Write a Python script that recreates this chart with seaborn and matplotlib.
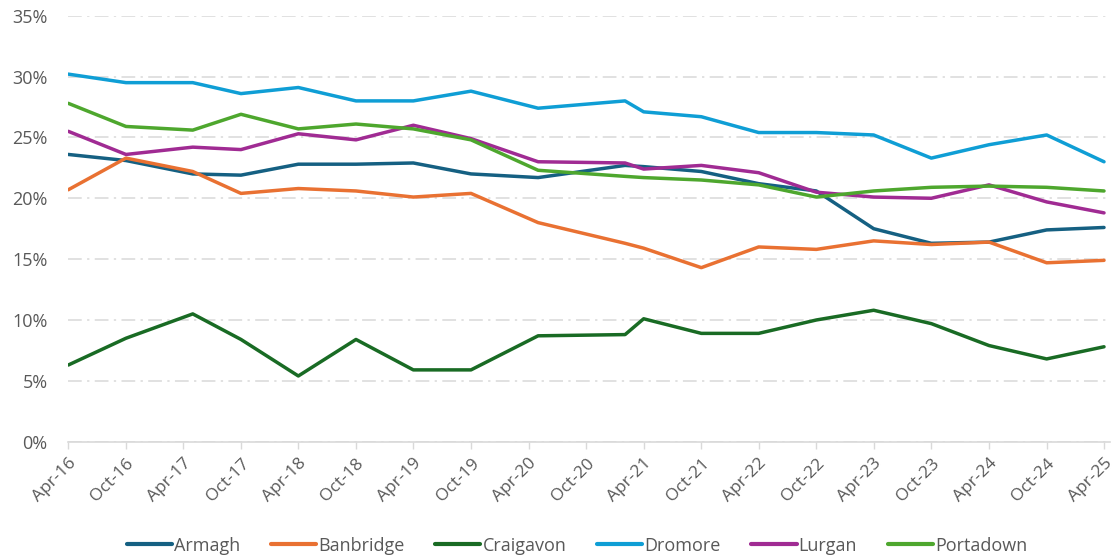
import numpy as np
import pandas as pd
import matplotlib
matplotlib.use("Agg")
import matplotlib.pyplot as plt
import matplotlib.dates as mdates
import seaborn as sns

dates = ["2016-04-01", "2016-10-01", "2017-05-01", "2017-10-01", "2018-04-01",
         "2018-10-01", "2019-04-01", "2019-10-01", "2020-05-01", "2021-02-01",
         "2021-04-01", "2021-10-01", "2022-04-01", "2022-10-01", "2023-04-01",
         "2023-10-01", "2024-04-01", "2024-10-01", "2025-04-01"]

armagh    = [23.6, 23.1, 22.0, 21.9, 22.8, 22.8, 22.9, 22.0, 21.7, 22.7, 22.6, 22.2, 21.2, 20.6, 17.5, 16.3, 16.4, 17.4, 17.6]
banbridge = [20.7, 23.3, 22.2, 20.4, 20.8, 20.6, 20.1, 20.4, 18.0, 16.3, 15.9, 14.3, 16.0, 15.8, 16.5, 16.2, 16.4, 14.7, 14.9]
craigavon = [6.3, 8.5, 10.5, 8.4, 5.4, 8.4, 5.9, 5.9, 8.7, 8.8, 10.1, 8.9, 8.9, 10.0, 10.8, 9.7, 7.9, 6.8, 7.8]
dromore   = [30.2, 29.5, 29.5, 28.6, 29.1, 28.0, 28.0, 28.8, 27.4, 28.0, 27.1, 26.7, 25.4, 25.4, 25.2, 23.3, 24.4, 25.2, 23.0]
lurgan    = [25.5, 23.6, 24.2, 24.0, 25.3, 24.8, 26.0, 24.9, 23.0, 22.9, 22.4, 22.7, 22.1, 20.5, 20.1, 20.0, 21.1, 19.7, 18.8]
portadown = [27.8, 25.9, 25.6, 26.9, 25.7, 26.1, 25.7, 24.8, 22.3, 21.8, 21.7, 21.5, 21.1, 20.1, 20.6, 20.9, 21.0, 20.9, 20.6]

series_names = ["Armagh", "Banbridge", "Craigavon", "Dromore", "Lurgan", "Portadown"]
series_values = [armagh, banbridge, craigavon, dromore, lurgan, portadown]
colors = ["#156082", "#E97132", "#196B24", "#0F9ED5", "#A02B93", "#4EA72E"]

tick_dates = pd.date_range("2016-04-01", "2025-04-01", freq="6MS")

rows = []
for name, vals in zip(series_names, series_values):
    for d, v in zip(dates, vals):
        rows.append({"date": pd.Timestamp(d), "value": v / 100.0, "series": name})
df = pd.DataFrame(rows)

sns.set_theme(style="white")
plt.rcParams["font.family"] = ["Open Sans", "DejaVu Sans"]

fig = plt.figure(figsize=(11.16, 5.56), dpi=100)
ax = fig.add_axes([68.3 / 1116, 114.3 / 556, (1110 - 68.3) / 1116, 426 / 556])

sns.lineplot(data=df, x="date", y="value", hue="series", hue_order=series_names,
             palette=dict(zip(series_names, colors)), linewidth=2.5, ax=ax,
             legend=False)
for ln in ax.get_lines():
    ln.set_solid_capstyle("round")
    ln.set_solid_joinstyle("round")

ax.set_xlim(pd.Timestamp("2016-04-01"), pd.Timestamp("2025-04-20"))
ax.set_ylim(0, 0.35)
ax.set_yticks(np.arange(0, 0.351, 0.05))
ax.set_yticklabels([f"{int(round(v*100))}%" for v in np.arange(0, 0.351, 0.05)])
ax.set_xticks(tick_dates)
ax.xaxis.set_major_formatter(mdates.DateFormatter("%b-%y"))

text_color = "#595959"
for lbl in ax.get_xticklabels():
    lbl.set_rotation(45)
    lbl.set_ha("right")
    lbl.set_rotation_mode("anchor")
ax.tick_params(axis="x", colors=text_color, labelsize=12.5, length=5, width=1,
               color="#D9D9D9", direction="out", bottom=True, pad=5)
ax.tick_params(axis="y", colors=text_color, labelsize=13, length=0, pad=15)

ax.yaxis.grid(True, color="#D9D9D9", linewidth=1.1, linestyle=(0, (9, 3.5, 1.5, 3.5)))
ax.xaxis.grid(False)
for s in ["top", "right", "left"]:
    ax.spines[s].set_visible(False)
ax.spines["bottom"].set_color("#D9D9D9")
ax.spines["bottom"].set_linewidth(1.2)
ax.set_xlabel("")
ax.set_ylabel("")

handles = [plt.Line2D([], [], color=c, linewidth=3, solid_capstyle="round") for c in colors]
fig.legend(handles, series_names, loc="lower center", bbox_to_anchor=(577 / 1116, -0.027),
           ncol=6, frameon=False, fontsize=13, handlelength=2.5, handletextpad=0.12,
           columnspacing=1.7, labelcolor=text_color)

fig.savefig("out.png", dpi=100)
